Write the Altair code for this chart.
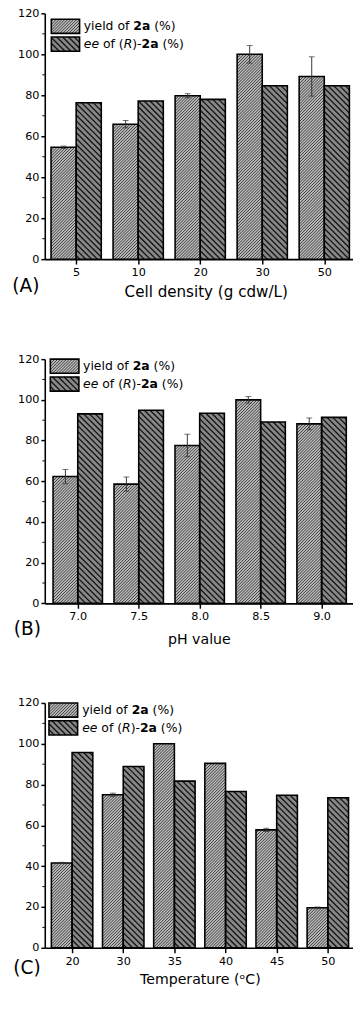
import json
import altair as alt
import pandas as pd
import numpy as np

# ---------------- data ----------------
A_LABELS = ['5', '10', '20', '30', '50']
A_YIELD = [54.6, 65.9, 79.8, 100.0, 89.2]
A_YIELD_ERR = [0.6, 1.8, 1.0, 4.3, 9.6]
A_EE = [76.4, 77.2, 78.0, 84.7, 84.7]

B_LABELS = ['7.0', '7.5', '8.0', '8.5', '9.0']
B_YIELD = [62.3, 58.6, 77.6, 100.0, 88.2]
B_YIELD_ERR = [3.5, 3.5, 5.5, 1.6, 2.9]
B_EE = [93.1, 94.9, 93.4, 89.1, 91.4]

C_LABELS = ['20', '30', '35', '40', '45', '50']
C_YIELD = [41.6, 75.0, 100.0, 90.4, 57.8, 19.6]
C_YIELD_ERR = [0.3, 0.8, 0.0, 0.0, 0.8, 0.4]
C_EE = [95.7, 88.9, 81.7, 76.6, 74.8, 73.5]

TITLES = ['Cell density (g cdw/L)', 'pH value', 'Temperature (\u1d52C)']
PANEL_TAGS = ['(A)', '(B)', '(C)']

# ---------------- styling ----------------
FONT = 'DejaVu Sans'
Y_FILL = '#bababa'
EE_FILL = '#878787'
BW = 0.405

REG = {' ': 318, '(': 390, ')': 390, '%': 950, '-': 361, '2': 636, 'a': 613,
       'd': 635, 'e': 615, 'f': 352, 'i': 278, 'l': 278, 'o': 612, 'y': 592, 'R': 695}
BOLD = {'2': 696, 'a': 675}


def tw(s, fs, bold=False):
    tot = 0
    for ch in s:
        if bold and ch in BOLD:
            tot += BOLD[ch]
        else:
            tot += REG.get(ch, 600)
    return tot * fs / 1000.0


def hatch_segments(X0, X1, Y0, Y1, period, direction):
    segs = []
    if direction == '/':
        kmin = int(np.floor((Y0 - X1) / period))
        kmax = int(np.ceil((Y1 - X0) / period))
        for k in range(kmin, kmax + 1):
            c = k * period
            xs = max(X0, Y0 - c)
            xe = min(X1, Y1 - c)
            if xe - xs > 0.2:
                segs.append((xs, xs + c, xe, xe + c))
    else:
        kmin = int(np.floor((X0 + Y0) / period))
        kmax = int(np.ceil((X1 + Y1) / period))
        for k in range(kmin, kmax + 1):
            c = k * period
            xs = max(X0, c - Y1)
            xe = min(X1, c - Y0)
            if xe - xs > 0.2:
                segs.append((xs, c - xs, xe, c - xe))
    return segs


# all plot areas start at the same x; plots end at the page edge
CFG = [
    dict(dom=(-0.506, 4.463), w=316.0, h=252, tx=165, ty=38, tfs=15.5,
         lx=-33.3, ly=27.5, lt=6, sx=(6.7, 35.7), txx=40, ext=45),
    dict(dom=(-0.541, 4.515), w=316.0, h=250.4, tx=158, ty=41, tfs=14.5,
         lx=-31.7, ly=26.3, lt=0, sx=(5.7, 35.0), txx=39.3, ext=44),
    dict(dom=(-0.534, 5.492), w=316.0, h=251, tx=159, ty=37, tfs=14.5,
         lx=-32.3, ly=21, lt=0, sx=(4.3, 33.7), txx=38.3, ext=None),
]


def panel(labels, yld, err, ee, title, tag, cfg):
    n = len(labels)
    d0, d1 = cfg['dom']
    W, H = cfg['w'], cfg['h']
    kx = W / (d1 - d0)
    ky = H / 120.0
    xs = alt.Scale(domain=[d0, d1], nice=False, zero=False)
    ys = alt.Scale(domain=[0, 120], nice=False, zero=True)

    rects = []
    for i in range(n):
        rects.append(dict(x0=i - BW, x1=i, y0=0.0, y1=yld[i], s='yield'))
        rects.append(dict(x0=i, x1=i + BW, y0=0.0, y1=ee[i], s='ee'))
    lt = cfg['lt']
    sx0, sx1 = cfg['sx']
    for j, s in enumerate(['yield', 'ee']):
        py0 = lt + j * 18.3
        py1 = py0 + 14.5
        rects.append(dict(x0=d0 + sx0 / kx, x1=d0 + sx1 / kx,
                          y0=(H - py1) / ky, y1=(H - py0) / ky, s=s))
    rdf = pd.DataFrame(rects)

    hy, he = [], []
    for r in rects:
        X0 = (r['x0'] - d0) * kx
        X1 = (r['x1'] - d0) * kx
        Y0 = r['y0'] * ky
        Y1 = r['y1'] * ky
        if r['s'] == 'yield':
            for a, b, c, d in hatch_segments(X0, X1, Y0, Y1, 3.0, '/'):
                hy.append(dict(x=d0 + a / kx, y=b / ky, x2=d0 + c / kx, y2=d / ky))
        else:
            for a, b, c, d in hatch_segments(X0, X1, Y0, Y1, 6.0, '\\'):
                he.append(dict(x=d0 + a / kx, y=b / ky, x2=d0 + c / kx, y2=d / ky))
    hydf = pd.DataFrame(hy)
    hedf = pd.DataFrame(he)

    edf = pd.DataFrame([dict(xc=i - BW / 2, lo=yld[i] - err[i], hi=yld[i] + err[i])
                        for i in range(n) if err[i] > 0])
    cap = pd.concat([edf[['xc', 'lo']].rename(columns={'lo': 'v'}),
                     edf[['xc', 'hi']].rename(columns={'hi': 'v'})])

    x_axis = alt.Axis(values=list(range(n)), labelExpr=json.dumps(labels) + '[datum.value]',
                      title=title, titleX=cfg['tx'], titleY=cfg['ty'],
                      titleBaseline='alphabetic', titleAlign='center',
                      titleFontSize=cfg['tfs'], tickSize=5, tickWidth=1.5,
                      domainWidth=1.6, labelPadding=3, labelFlush=False,
                      labelOverlap=False, grid=False)
    y_axis = alt.Axis(values=list(range(0, 121, 20)), title=None, tickSize=4,
                      tickWidth=1.5, domainWidth=1.6, labelPadding=2,
                      labelFlush=False, grid=False)

    fill = alt.Chart(rdf).mark_rect(strokeWidth=0).encode(
        x=alt.X('x0:Q', scale=xs, axis=x_axis, title=title),
        x2='x1:Q',
        y=alt.Y('y1:Q', scale=ys, axis=y_axis, title=None),
        y2='y0:Q',
        color=alt.Color('s:N', scale=alt.Scale(domain=['yield', 'ee'],
                                                range=[Y_FILL, EE_FILL]), legend=None),
    )
    hatch_y = alt.Chart(hydf).mark_rule(color='#2e2e2e', strokeWidth=0.9).encode(
        x=alt.X('x:Q', scale=xs), x2='x2:Q',
        y=alt.Y('y:Q', scale=ys), y2='y2:Q')
    hatch_e = alt.Chart(hedf).mark_rule(color='#111111', strokeWidth=1.3).encode(
        x=alt.X('x:Q', scale=xs), x2='x2:Q',
        y=alt.Y('y:Q', scale=ys), y2='y2:Q')
    outline = alt.Chart(rdf).mark_rect(fill='white', fillOpacity=0, stroke='black',
                                       strokeWidth=1.6).encode(
        x=alt.X('x0:Q', scale=xs), x2='x1:Q',
        y=alt.Y('y1:Q', scale=ys), y2='y0:Q')
    err_rule = alt.Chart(edf).mark_rule(color='#333333', strokeWidth=1).encode(
        x=alt.X('xc:Q', scale=xs),
        y=alt.Y('lo:Q', scale=ys), y2='hi:Q')
    err_cap = alt.Chart(cap).mark_tick(orient='horizontal', size=6, thickness=1,
                                       color='#333333').encode(
        x=alt.X('xc:Q', scale=xs),
        y=alt.Y('v:Q', scale=ys))
    minor = alt.Chart(pd.DataFrame({'m': [10, 30, 50, 70, 90, 110]})).mark_rule(
        color='black', strokeWidth=1).encode(
        y=alt.Y('m:Q', scale=ys), x=alt.value(-2.5), x2=alt.value(0))

    one = pd.DataFrame({'k': [0]})
    fs = 12.7
    tx0 = cfg['txx']
    yc1 = lt + 7.25
    yc2 = lt + 18.3 + 7.25

    def seg(text, x, y, weight='normal', style='normal'):
        return alt.Chart(one).mark_text(text=text, align='left', baseline='middle',
                                        font=FONT, fontSize=fs, fontWeight=weight,
                                        fontStyle=style, color='black').encode(
            x=alt.value(x), y=alt.value(y))

    texts = []
    x = tx0
    texts.append(seg('yield of', x, yc1))
    x += tw('yield of ', fs)
    texts.append(seg('2a', x, yc1, weight='bold'))
    x += tw('2a', fs, bold=True) + tw(' ', fs)
    texts.append(seg('(%)', x, yc1))

    x = tx0
    texts.append(seg('ee', x, yc2, style='italic'))
    x += tw('ee ', fs)
    texts.append(seg('of (', x, yc2))
    x += tw('of (', fs)
    texts.append(seg('R', x, yc2, style='italic'))
    x += tw('R', fs)
    texts.append(seg(')-', x, yc2))
    x += tw(')-', fs)
    texts.append(seg('2a', x, yc2, weight='bold'))
    x += tw('2a', fs, bold=True) + tw(' ', fs)
    texts.append(seg('(%)', x, yc2))

    tag_mark = alt.Chart(one).mark_text(text=tag, align='left', baseline='middle',
                                        font=FONT, fontSize=19, color='black').encode(
        x=alt.value(cfg['lx']), y=alt.value(H + cfg['ly']))

    layers = [fill, hatch_y, hatch_e, outline, err_rule, err_cap, minor, *texts, tag_mark]
    if cfg['ext'] is not None:
        # invisible spacer fixing the lower extent of the panel
        layers.append(alt.Chart(one).mark_rule(strokeOpacity=0, strokeWidth=0.5).encode(
            x=alt.value(0), x2=alt.value(1), y=alt.value(H + cfg['ext'])))
    return alt.layer(*layers).properties(width=W, height=H)


pA = panel(A_LABELS, A_YIELD, A_YIELD_ERR, A_EE, TITLES[0], PANEL_TAGS[0], CFG[0])
pB = panel(B_LABELS, B_YIELD, B_YIELD_ERR, B_EE, TITLES[1], PANEL_TAGS[1], CFG[1])
pC = panel(C_LABELS, C_YIELD, C_YIELD_ERR, C_EE, TITLES[2], PANEL_TAGS[2], CFG[2])

chart = alt.ConcatChart(concat=[pA, pB, pC], columns=1, spacing=51.5, align='none').properties(
    padding={'top': -13, 'left': 3.7, 'right': 0, 'bottom': 0}
).configure_view(strokeWidth=0).configure_axis(
    domainColor='black', tickColor='black', labelColor='black', titleColor='black',
    labelFont=FONT, titleFont=FONT, labelFontSize=11.5, titleFontWeight='normal'
)

chart.save("out.html", embed_options={"renderer": "svg", "actions": False})
